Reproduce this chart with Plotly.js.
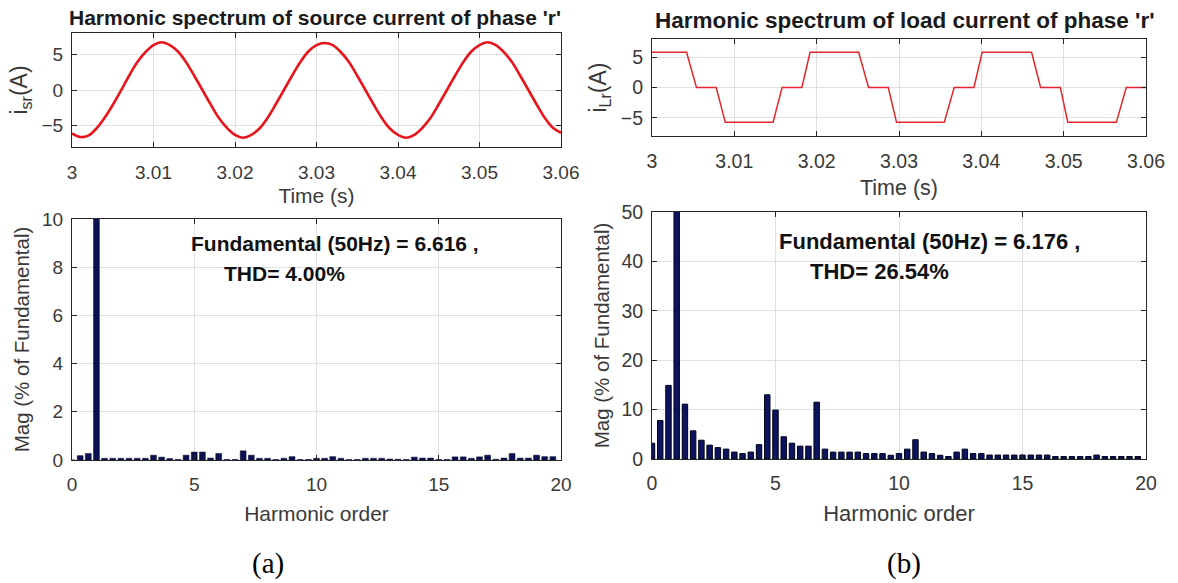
<!DOCTYPE html>
<html>
<head>
<meta charset="utf-8">
<script src="https://cdn.plot.ly/plotly-3.0.1.min.js"></script>
<style>
  html, body { margin: 0; padding: 0; background: #ffffff; }
  #chart { width: 1178px; height: 583px; }
</style>
</head>
<body>
<div id="chart"></div>
<script>
// ---- Source current of phase 'r' (sampled every 1 ms from t = 3.000 s) ----
const srcStart = 3.0;
const srcStep = 0.001;
const srcCurrent = [
  -6.1, -6.6, -6.4, -5.4, -3.9, -2.1, -0.1, 2.0, 3.9, 5.3,
   6.3,  6.7,  6.3,  5.4,  3.9,  2.0,  0.0, -2.0, -3.9, -5.3,
  -6.3, -6.7, -6.3, -5.4, -3.9, -2.0,  0.0, 2.0, 3.9, 5.4,
   6.3,  6.6,  6.3,  5.3,  3.9,  2.0,  0.0, -2.0, -3.9, -5.4,
  -6.3, -6.7, -6.3, -5.3, -3.9, -2.0,  0.0, 2.0, 3.9, 5.4,
   6.3,  6.7,  6.3,  5.3,  3.9,  2.0,  0.0, -2.0, -3.9, -5.3,
  -6.0
];

// ---- Load current of phase 'r' (corner points of the stepped waveform) ----
const loadTime = [
  3.0000, 3.0042, 3.0054, 3.0078, 3.0089, 3.0147, 3.0158, 3.0182,
  3.0192, 3.0251, 3.0263, 3.0287, 3.0297, 3.0355, 3.0367, 3.0391,
  3.0401, 3.0461, 3.0472, 3.0496, 3.0505, 3.0564, 3.0576, 3.0600
];
const loadCurrent = [
  5.8, 5.8, 0, 0, -5.75, -5.75, 0, 0,
  5.8, 5.8, 0, 0, -5.75, -5.75, 0, 0,
  5.8, 5.8, 0, 0, -5.75, -5.75, 0, 0
];

// ---- Harmonic spectra, orders 0, 1/3, 2/3, 1, ... (% of fundamental) ----
const orderStart = 0;
const orderStep = 1 / 3;
const srcSpectrum = [
  0.00, 0.18, 0.27, 100, 0.07, 0.07, 0.07, 0.07, 0.07, 0.07,
  0.20, 0.12, 0.06, 0.02, 0.20, 0.33, 0.33, 0.08, 0.27, 0.02,
  0.02, 0.38, 0.20, 0.07, 0.07, 0.02, 0.07, 0.14, 0.02, 0.02,
  0.07, 0.07, 0.14, 0.07, 0.02, 0.02, 0.07, 0.07, 0.07, 0.04,
  0.03, 0.02, 0.12, 0.08, 0.08, 0.02, 0.02, 0.13, 0.13, 0.07,
  0.13, 0.20, 0.03, 0.08, 0.27, 0.08, 0.08, 0.20, 0.14, 0.14
];
const loadSpectrum = [
  3.2, 7.8, 14.9, 100, 11.1, 5.7, 3.8, 2.8, 2.3, 2.0,
  1.4, 1.1, 1.4, 2.9, 13.0, 9.9, 4.5, 3.2, 2.6, 2.6,
  11.5, 2.0, 1.4, 1.4, 1.4, 1.4, 1.1, 1.1, 1.1, 0.75,
  1.1, 2.0, 3.9, 1.4, 1.1, 0.75, 0.5, 1.4, 2.0, 1.1,
  1.1, 0.8, 0.8, 0.8, 0.8, 0.8, 0.8, 0.8, 0.8, 0.5,
  0.5, 0.5, 0.5, 0.5, 0.8, 0.5, 0.5, 0.5, 0.5, 0.5
];

// ---- Summary figures printed on the spectra ----
const srcFundamental = 6.616;
const srcTHD = 4.00;
const loadFundamental = 6.176;
const loadTHD = 26.54;

// ---- Tick labels ----
const timeTicks = [3, 3.01, 3.02, 3.03, 3.04, 3.05, 3.06];
const currentTicks = [-5, 0, 5];
const orderTicks = [0, 5, 10, 15, 20];
const srcMagTicks = [0, 2, 4, 6, 8, 10];
const loadMagTicks = [0, 10, 20, 30, 40, 50];

const W = 1178, H = 583;
const px = v => v / W;
const py = v => 1 - v / H;

const FONT = 'Liberation Sans, Arial, Helvetica, sans-serif';
const AX_COL = '#262626';
const TICK_COL = '#3a3a3a';

function axis(extra) {
  return Object.assign({
    showline: true, linecolor: AX_COL, linewidth: 1, mirror: 'ticks',
    ticks: 'inside', ticklen: 5, tickcolor: AX_COL, tickwidth: 1,
    showgrid: true, gridcolor: '#e0e0e0', gridwidth: 1, zeroline: false,
    tickfont: { family: FONT, size: 19, color: TICK_COL },
    tickmode: 'array', fixedrange: true
  }, extra);
}

const traces = [
  {
    type: 'scatter', mode: 'lines', x0: srcStart, dx: srcStep, y: srcCurrent,
    line: { color: '#e8161c', width: 2.6, shape: 'spline', smoothing: 1 },
    xaxis: 'x', yaxis: 'y', hoverinfo: 'skip'
  },
  {
    type: 'scatter', mode: 'lines', x: loadTime, y: loadCurrent,
    line: { color: '#e3262c', width: 1.5 },
    xaxis: 'x2', yaxis: 'y2', hoverinfo: 'skip'
  },
  {
    type: 'bar', x0: orderStart, dx: orderStep, y: srcSpectrum, width: 0.24,
    marker: { color: '#0b1150', line: { color: '#05082e', width: 0.5 } },
    xaxis: 'x3', yaxis: 'y3', hoverinfo: 'skip'
  },
  {
    type: 'bar', x0: orderStart, dx: orderStep, y: loadSpectrum, width: 0.22,
    marker: { color: '#0c1460', line: { color: '#000018', width: 1 } },
    xaxis: 'x4', yaxis: 'y4', hoverinfo: 'skip'
  }
];

const f = (size, color) => ({ family: FONT, size: size, color: color });

const layout = {
  width: W, height: H,
  margin: { l: 0, r: 0, t: 0, b: 0 },
  paper_bgcolor: '#ffffff', plot_bgcolor: '#ffffff',
  showlegend: false, bargap: 0,
  font: { family: FONT, color: AX_COL },

  xaxis: axis({ domain: [px(72), px(561)], anchor: 'y', range: [3, 3.06], tickvals: timeTicks,
    ticklabelstandoff: 8, title: { text: 'Time (s)', font: f(21, TICK_COL), standoff: 6 } }),
  yaxis: axis({ domain: [py(147), py(33)], anchor: 'x', range: [-8, 8], tickvals: currentTicks,
    ticklabelstandoff: 4, title: { text: 'i<sub>sr</sub>(A)', font: f(23, TICK_COL), standoff: 7 } }),

  xaxis2: axis({ domain: [px(652), px(1146)], anchor: 'y2', range: [3, 3.06], tickvals: timeTicks,
    tickfont: f(19.5, TICK_COL),
    ticklabelstandoff: 8, title: { text: 'Time (s)', font: f(21.5, TICK_COL), standoff: 8 } }),
  yaxis2: axis({ domain: [py(136), py(39)], anchor: 'x2', range: [-8, 8], tickvals: currentTicks,
    tickfont: f(19.5, TICK_COL),
    ticklabelstandoff: 4, title: { text: 'i<sub>Lr</sub>(A)', font: f(23, TICK_COL), standoff: 7 } }),

  xaxis3: axis({ domain: [px(72), px(561)], anchor: 'y3', range: [0, 20], tickvals: orderTicks,
    ticklabelstandoff: 7, title: { text: 'Harmonic order', font: f(21, TICK_COL), standoff: 12 } }),
  yaxis3: axis({ domain: [py(460), py(219)], anchor: 'x3', range: [0, 10], tickvals: srcMagTicks,
    ticklabelstandoff: 4, title: { text: 'Mag (% of Fundamental)', font: f(20.5, TICK_COL), standoff: 6 } }),

  xaxis4: axis({ domain: [px(652), px(1146)], anchor: 'y4', range: [0, 20], tickvals: orderTicks,
    tickfont: f(19.5, TICK_COL),
    ticklabelstandoff: 7, title: { text: 'Harmonic order', font: f(22, TICK_COL), standoff: 12 } }),
  yaxis4: axis({ domain: [py(459), py(212)], anchor: 'x4', range: [0, 50], tickvals: loadMagTicks,
    tickfont: f(19.5, TICK_COL),
    ticklabelstandoff: 4, title: { text: 'Mag (% of Fundamental)', font: f(20.5, TICK_COL), standoff: 6 } }),

  annotations: [
    { xref: 'paper', yref: 'paper', x: px(315), y: py(18), xanchor: 'center', yanchor: 'middle',
      text: "<b>Harmonic spectrum of source current of phase 'r'</b>", showarrow: false, font: f(21, '#1a1a1a') },
    { xref: 'paper', yref: 'paper', x: px(905), y: py(21), xanchor: 'center', yanchor: 'middle',
      text: "<b>Harmonic spectrum of load current of phase 'r'</b>", showarrow: false, font: f(22.5, '#1a1a1a') },

    { xref: 'x3', yref: 'y3', x: 4.8, y: 8.97, xanchor: 'left', yanchor: 'middle', showarrow: false,
      text: '<b>Fundamental (50Hz) = ' + srcFundamental.toFixed(3) + ' ,</b>', font: f(21, '#111111') },
    { xref: 'x3', yref: 'y3', x: 6.12, y: 7.73, xanchor: 'left', yanchor: 'middle', showarrow: false,
      text: '<b>THD= ' + srcTHD.toFixed(2) + '%</b>', font: f(21, '#111111') },

    { xref: 'x4', yref: 'y4', x: 5.08, y: 44.0, xanchor: 'left', yanchor: 'middle', showarrow: false,
      text: '<b>Fundamental (50Hz) = ' + loadFundamental.toFixed(3) + ' ,</b>', font: f(22, '#111111') },
    { xref: 'x4', yref: 'y4', x: 6.3, y: 38.0, xanchor: 'left', yanchor: 'middle', showarrow: false,
      text: '<b>THD= ' + loadTHD.toFixed(2) + '%</b>', font: f(22, '#111111') },

    { xref: 'paper', yref: 'paper', x: px(268), y: py(563), xanchor: 'center', yanchor: 'middle',
      text: '(a)', showarrow: false, font: { family: 'Liberation Serif, Times New Roman, serif', size: 29, color: '#000000' } },
    { xref: 'paper', yref: 'paper', x: px(904), y: py(563), xanchor: 'center', yanchor: 'middle',
      text: '(b)', showarrow: false, font: { family: 'Liberation Serif, Times New Roman, serif', size: 29, color: '#000000' } }
  ]
};

Plotly.newPlot('chart', traces, layout, { displayModeBar: false, staticPlot: true });
</script>
</body>
</html>
